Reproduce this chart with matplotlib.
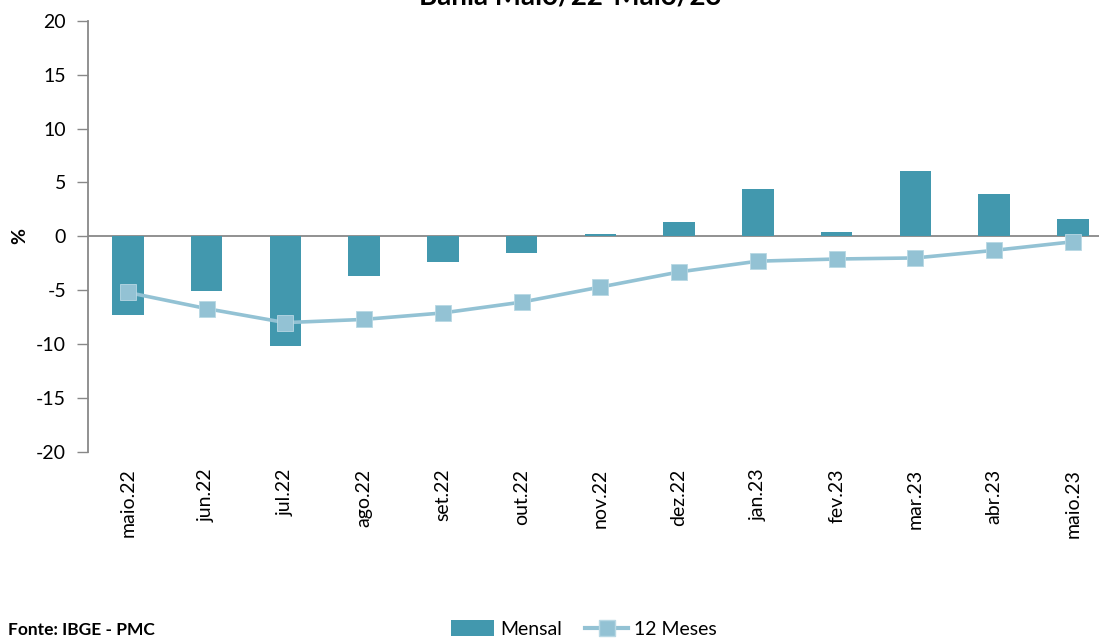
import matplotlib
matplotlib.use("Agg")
import matplotlib.pyplot as plt
import numpy as np
from matplotlib.lines import Line2D
from matplotlib.patches import Patch

categories = ["maio.22", "jun.22", "jul.22", "ago.22", "set.22", "out.22", "nov.22",
              "dez.22", "jan.23", "fev.23", "mar.23", "abr.23", "maio.23"]
mensal = [-7.3, -5.1, -10.2, -3.7, -2.4, -1.5, 0.2, 1.3, 4.4, 0.4, 6.1, 3.9, 1.6]
doze_meses = [-5.2, -6.7, -8.0, -7.7, -7.1, -6.1, -4.7, -3.3, -2.3, -2.1, -2.0, -1.3, -0.5]
yticks = [20, 15, 10, 5, 0, -5, -10, -15, -20]

plt.rcParams['font.family'] = ['Lato', 'DejaVu Sans']

bar_color = "#4298AE"
line_color = "#93C2D4"

fig = plt.figure(figsize=(10.99, 6.39), dpi=100)
ax = fig.add_axes([0.0805, 0.2926, 0.9315, 0.675])

x = np.arange(len(categories))
ax.bar(x, mensal, width=0.4, color=bar_color, zorder=2)
ax.plot(x, doze_meses, color=line_color, lw=2.6, marker='s', markersize=11.5,
        markerfacecolor=line_color, markeredgecolor="#B8D8E4", markeredgewidth=0.6, zorder=3)

ax.set_xlim(-0.5, len(categories) - 0.5)
ax.set_ylim(-20, 20)
ax.set_yticks(yticks)
ax.set_yticklabels([str(v) for v in yticks], fontsize=14)
ax.set_xticks(x)
ax.set_xticklabels(categories, rotation=90, fontsize=14)
ax.tick_params(axis='x', length=0, pad=12)
ax.tick_params(axis='y', length=8, color="#888888", width=1, pad=8)
ax.axhline(0, color="#888888", lw=1.3, zorder=1)

for s in ["top", "right", "bottom"]:
    ax.spines[s].set_visible(False)
ax.spines["left"].set_color("#888888")
ax.spines["left"].set_linewidth(1.3)

fig.text(20 / 1099, 1 - 236 / 639, "%", rotation=90, fontsize=14, fontweight='bold',
         ha='center', va='center')

fig.text(570 / 1099, 1 - 5 / 639, "Bahia Maio/22-Maio/23", fontsize=20, fontweight='bold',
         ha='center', va='baseline')

fig.text(8 / 1099, 1 - 630 / 639, "Fonte: IBGE - PMC", fontsize=12.5, fontweight='bold',
         ha='left', va='center')

handles = [Patch(facecolor=bar_color, edgecolor='none'),
           Line2D([0], [0], color=line_color, lw=3, marker='s', markersize=11.5,
                  markerfacecolor=line_color, markeredgecolor="#B8D8E4")]
fig.legend(handles, ["Mensal", "12 Meses"], loc='center', bbox_to_anchor=(584 / 1099, 1 - 629 / 639),
           ncol=2, frameon=False, fontsize=14, handlelength=2.2, handleheight=0.9,
           columnspacing=1.2, handletextpad=0.3)

fig.savefig("out.png", dpi=100)
